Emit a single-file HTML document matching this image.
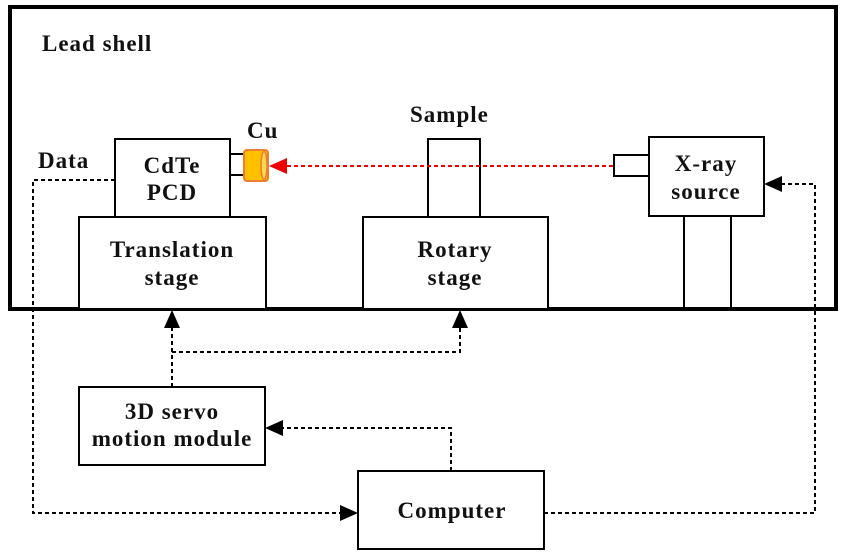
<!DOCTYPE html>
<html><head><meta charset="utf-8"><style>
html,body{margin:0;padding:0;background:#fff;}
svg{display:block;}
text{font-family:"Liberation Serif",serif;font-weight:bold;font-size:23px;letter-spacing:1px;fill:#111;}
</style></head><body>
<svg width="847" height="556" viewBox="0 0 847 556" xmlns="http://www.w3.org/2000/svg">
<defs>
<marker id="ab2" markerWidth="18" markerHeight="16" refX="16" refY="8" orient="auto" markerUnits="userSpaceOnUse"><path d="M0,0 L18,8 L0,16 Z" fill="#000"/></marker>
<marker id="ar" markerWidth="18" markerHeight="16" refX="16" refY="8" orient="auto" markerUnits="userSpaceOnUse"><path d="M0,0 L18,8 L0,16 Z" fill="#e00"/></marker>
</defs>
<rect x="10" y="7" width="826" height="302" fill="none" stroke="#000" stroke-width="4"/>
<text x="42" y="51" font-size="22">Lead shell</text>
<g fill="#fff" stroke="#000" stroke-width="2">
<rect x="115" y="139" width="115" height="78"/>
<rect x="79" y="217" width="187" height="92"/>
<rect x="428" y="139" width="52" height="78"/>
<rect x="363" y="217" width="185" height="92"/>
<rect x="649" y="137" width="115" height="79"/>
<rect x="614" y="155" width="35" height="21"/>
<line x1="684" y1="216" x2="684" y2="309"/>
<line x1="731" y1="216" x2="731" y2="309"/>
<rect x="79" y="387" width="186" height="78"/>
<rect x="358" y="471" width="186" height="78"/>
<line x1="230" y1="154" x2="244" y2="154"/>
<line x1="230" y1="175" x2="244" y2="175"/>
</g>
<rect x="244" y="150" width="24" height="31" rx="3" fill="#ffc000" stroke="#ed7d31" stroke-width="2"/>
<ellipse cx="264" cy="165.5" rx="3" ry="14" fill="#ffd84d" stroke="#ed7d31" stroke-width="1.5"/>
<text x="247" y="138">Cu</text>
<text x="410" y="122">Sample</text>
<text x="38" y="168" font-size="22">Data</text>
<g text-anchor="middle">
<text x="172" y="173">CdTe</text><text x="172" y="200">PCD</text>
<text x="172" y="257">Translation</text><text x="172" y="285">stage</text>
<text x="455" y="257">Rotary</text><text x="455" y="285">stage</text>
<text x="706" y="171">X-ray</text><text x="706" y="199">source</text>
<text x="172" y="419">3D servo</text><text x="172" y="446">motion module</text>
<text x="452" y="518">Computer</text>
</g>
<line x1="613" y1="166" x2="271" y2="166" stroke="#e00" stroke-width="2" stroke-dasharray="4,3" marker-end="url(#ar)"/>
<g fill="none" stroke="#000" stroke-width="2" stroke-dasharray="4,3">
<polyline points="115,180 33,180 33,513 356,513" marker-end="url(#ab2)"/>
<polyline points="544,513 815,513 815,184 766,184" marker-end="url(#ab2)"/>
<polyline points="451,471 451,428 267,428" marker-end="url(#ab2)"/>
<polyline points="172,387 172,312" marker-end="url(#ab2)"/>
<polyline points="172,352 460,352 460,312" marker-end="url(#ab2)"/>
</g>
</svg>
</body></html>
